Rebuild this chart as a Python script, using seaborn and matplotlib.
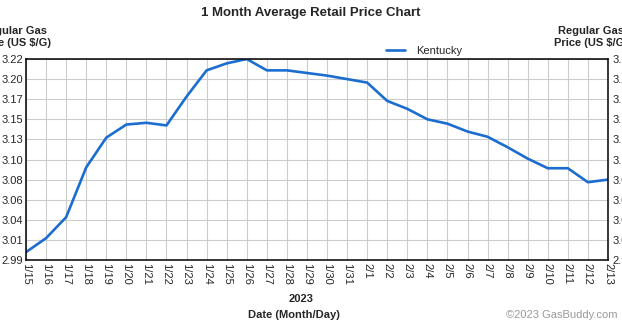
import matplotlib
matplotlib.use("Agg")
import matplotlib.pyplot as plt
import seaborn as sns
import pandas as pd
import numpy as np

dates = ["1/15", "1/16", "1/17", "1/18", "1/19", "1/20", "1/21", "1/22", "1/23", "1/24",
         "1/25", "1/26", "1/27", "1/28", "1/29", "1/30", "1/31", "2/1", "2/2", "2/3",
         "2/4", "2/5", "2/6", "2/7", "2/8", "2/9", "2/10", "2/11", "2/12", "2/13"]
kentucky = [2.999, 3.015, 3.039, 3.096, 3.130, 3.145, 3.147, 3.144, 3.177, 3.207,
            3.215, 3.220, 3.207, 3.207, 3.204, 3.201, 3.197, 3.193, 3.172, 3.163,
            3.151, 3.146, 3.137, 3.131, 3.119, 3.106, 3.095, 3.095, 3.079, 3.082]
ytick_values = [2.99, 3.013, 3.036, 3.059, 3.082, 3.105, 3.128, 3.151, 3.174, 3.197, 3.22]
ytick_labels = ["2.99", "3.01", "3.04", "3.06", "3.08", "3.10", "3.13", "3.15", "3.17", "3.20", "3.22"]

sns.set_style("white")
plt.rcParams['font.family'] = ['Liberation Sans', 'DejaVu Sans']

W, H = 622, 325
fig = plt.figure(figsize=(W / 100, H / 100), dpi=100)
ax = fig.add_axes([26 / W, (H - 260) / H, 582 / W, 201 / H])

df = pd.DataFrame({"date": dates, "price": kentucky})
sns.lineplot(data=df, x="date", y="price", ax=ax, color="#1c6dd0", linewidth=1.9,
             label="Kentucky", sort=False)

ax.set_xlim(0, len(dates) - 1)
ax.set_ylim(ytick_values[0], ytick_values[-1])
ax.set_xticks(range(len(dates)))
ax.set_xticklabels(dates, rotation=-90, fontsize=8, va="top", ha="center")
ax.set_yticks(ytick_values)
ax.set_yticklabels(ytick_labels, fontsize=8)
ax.tick_params(axis="both", length=0, pad=2)
ax.grid(True, color="#cccccc", linewidth=0.8)
ax.set_xlabel("")
ax.set_ylabel("")
for s in ax.spines.values():
    s.set_color("black")
    s.set_linewidth(1.1)

ax2 = ax.twinx()
ax2.set_ylim(ax.get_ylim())
ax2.set_yticks(ytick_values)
ax2.set_yticklabels(ytick_labels, fontsize=8)
ax2.tick_params(axis="y", length=0, pad=3)
for s in ax2.spines.values():
    s.set_visible(False)

leg = ax.legend(loc="lower left", bbox_to_anchor=(386 / W, (H - 56) / H),
                bbox_transform=fig.transFigure, frameon=False, fontsize=8,
                handlelength=1.7, handletextpad=1.0, borderpad=0, borderaxespad=0)

def ftext(x, y, s, **kw):
    fig.text(x / W, 1 - y / H, s, **kw)

ftext(311, 13, "1 Month Average Retail Price Chart", ha="center", va="center",
      fontsize=9.5, fontweight="bold")
ftext(51, 36.5, "Regular Gas\nPrice (US $/G)", ha="right", va="center",
      fontsize=8, fontweight="bold", multialignment="center", linespacing=1.25)
ftext(554, 36.5, "Regular Gas\nPrice (US $/G)", ha="left", va="center",
      fontsize=8, fontweight="bold", multialignment="center", linespacing=1.25)
ftext(301, 299, "2023", ha="center", va="center", fontsize=8, fontweight="bold")
ftext(294, 315, "Date (Month/Day)", ha="center", va="center", fontsize=8, fontweight="bold")
ftext(617, 315, "\u00a92023 GasBuddy.com", ha="right", va="center", fontsize=8, color="#9a9a9a")

fig.savefig("out.png", dpi=100)
